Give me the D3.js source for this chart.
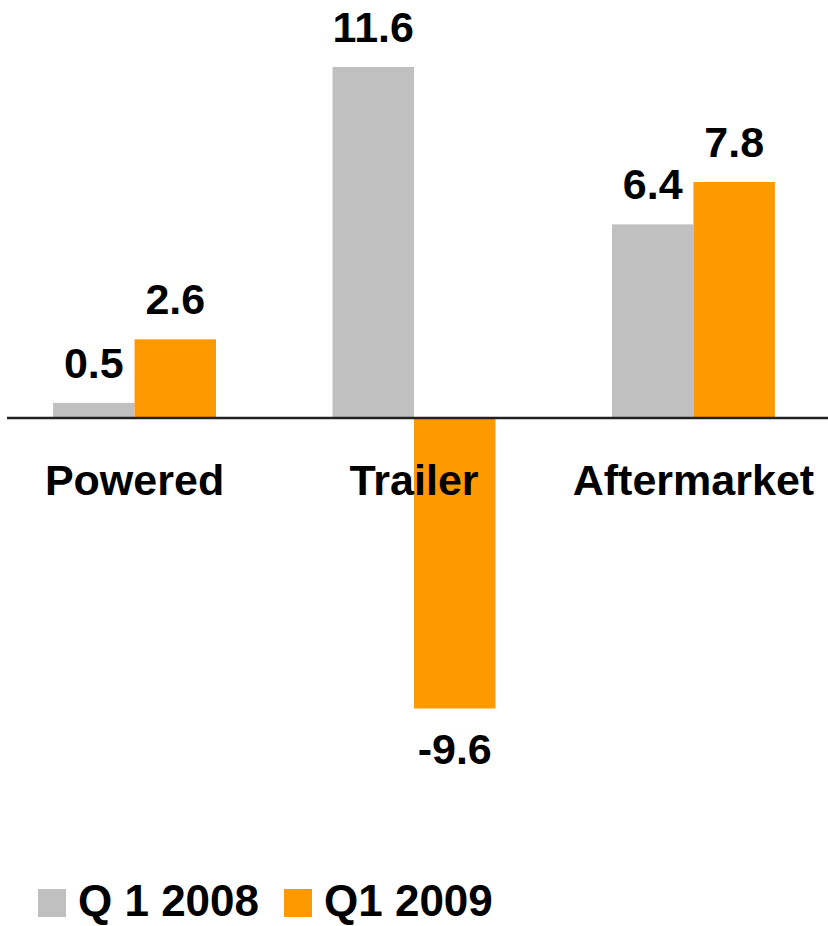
<!DOCTYPE html>
<html>
<head>
<meta charset="utf-8">
<script src="https://cdn.jsdelivr.net/npm/d3@7"></script>
<style>
  body { margin: 0; background: #fff; }
  svg text { font-family: "Liberation Sans", Arial, sans-serif; font-weight: bold; fill: #000; }
</style>
</head>
<body>
<div id="chart"></div>
<script>
var width = 828,
    height = 926;

// data
var categories = ["Powered", "Trailer", "Aftermarket"];
var seriesNames = ["Q 1 2008", "Q1 2009"];
var q1_2008 = [0.5, 11.6, 6.4];
var q1_2009 = [2.6, -9.6, 7.8];
var colors = ["#c0c0c0", "#ff9900"];

var rows = categories.map(function(c, i) {
  return [
    { cat: c, s: 0, v: q1_2008[i] },
    { cat: c, s: 1, v: q1_2009[i] }
  ];
});

var svg = d3.select("#chart")
    .append("svg")
    .attr("width", width)
    .attr("height", height);

var x = d3.scaleBand()
    .domain(categories)
    .range([0, width])
    .paddingInner(0.417)
    .paddingOuter(0.19);

var xs = d3.scaleBand()
    .domain([0, 1])
    .range([0, x.bandwidth()]);

var y = d3.scaleLinear()
    .domain([-14, 14])
    .range([841.6, -5.6]);

var fmt = function(v) { return d3.format(".1f")(v).replace("\u2212", "-"); };

var groups = svg.selectAll(".grp")
    .data(rows)
    .enter().append("g")
    .attr("class", "grp")
    .attr("transform", function(d) { return "translate(" + x(d[0].cat) + ",0)"; });

groups.selectAll("rect")
    .data(function(d) { return d; })
    .enter().append("rect")
    .attr("x", function(d) { return xs(d.s); })
    .attr("width", xs.bandwidth())
    .attr("y", function(d) { return y(Math.max(0, d.v)); })
    .attr("height", function(d) { return Math.abs(y(d.v) - y(0)); })
    .attr("fill", function(d) { return colors[d.s]; });

// value labels
groups.selectAll(".val")
    .data(function(d) { return d; })
    .enter().append("text")
    .attr("class", "val")
    .attr("x", function(d) { return xs(d.s) + xs.bandwidth() / 2; })
    .attr("y", function(d) { return d.v >= 0 ? y(d.v) - 25 : y(d.v) + 56; })
    .attr("text-anchor", "middle")
    .style("font-size", "43px")
    .text(function(d) { return fmt(d.v); });

// zero line
svg.append("line")
    .attr("x1", 7).attr("x2", width)
    .attr("y1", y(0)).attr("y2", y(0))
    .attr("stroke", "#222")
    .attr("stroke-width", 2.5);

// category labels
svg.selectAll(".cat")
    .data(categories)
    .enter().append("text")
    .attr("class", "cat")
    .attr("x", function(d) { return x(d) + x.bandwidth() / 2; })
    .attr("y", 495)
    .attr("text-anchor", "middle")
    .style("font-size", "43px")
    .text(function(d) { return d; });

// legend
var legendX = [38, 284];
var legend = svg.selectAll(".legend")
    .data(seriesNames)
    .enter().append("g")
    .attr("class", "legend")
    .attr("transform", function(d, i) { return "translate(" + legendX[i] + ",889)"; });

legend.append("rect")
    .attr("width", 28)
    .attr("height", 28)
    .attr("fill", function(d, i) { return colors[i]; });

legend.append("text")
    .attr("x", 40)
    .attr("y", 27)
    .style("font-size", "44px")
    .text(function(d) { return d; });
</script>
</body>
</html>
